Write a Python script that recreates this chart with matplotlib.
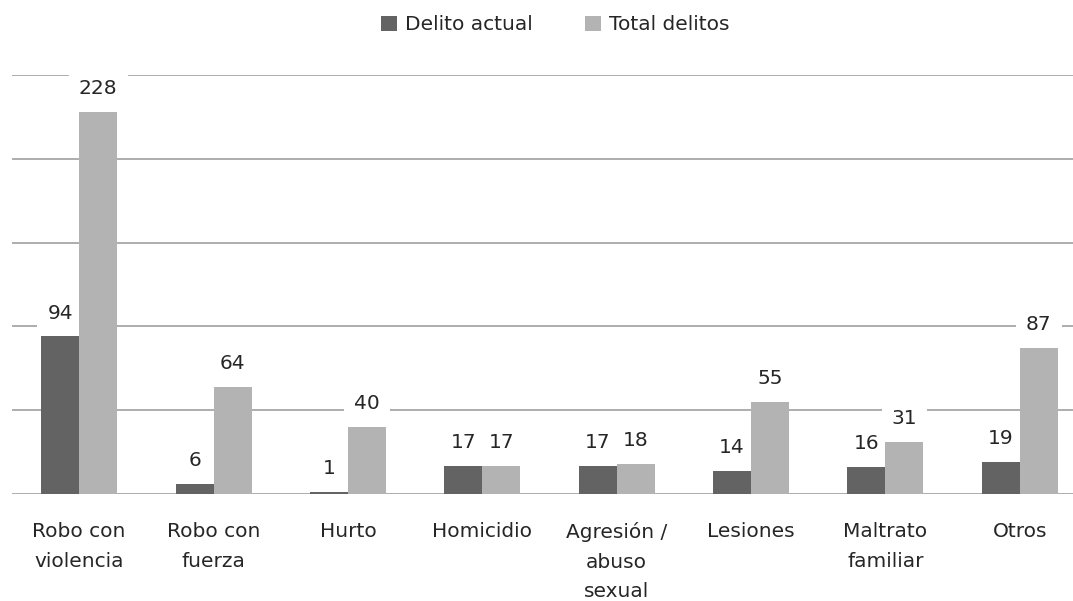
import matplotlib
matplotlib.use("Agg")
import matplotlib.pyplot as plt
import numpy as np

categories = ["Robo con\nviolencia", "Robo con\nfuerza", "Hurto", "Homicidio",
              "Agresión /\nabuso\nsexual", "Lesiones", "Maltrato\nfamiliar", "Otros"]
delito_actual = [94, 6, 1, 17, 17, 14, 16, 19]
total_delitos = [228, 64, 40, 17, 18, 55, 31, 87]

dark = "#636363"
light = "#b3b3b3"
grid_c = "#a0a0a0"
fs = 14.5

plt.rcParams["font.family"] = "DejaVu Sans"

fig = plt.figure(figsize=(10.73, 6.01), dpi=100)
ax = fig.add_axes([12 / 1073, 107 / 601, 1075 / 1073, 419 / 601])

x = np.arange(len(categories))
w = 0.283
b1 = ax.bar(x - w / 2, delito_actual, w, color=dark, label="Delito actual", zorder=3)
b2 = ax.bar(x + w / 2, total_delitos, w, color=light, label="Total delitos", zorder=3)

ax.set_xlim(-0.5, len(categories) - 0.5)
ax.set_ylim(0, 250)
ax.set_yticks(np.arange(0, 251, 50))
ax.yaxis.grid(True, color=grid_c, linewidth=1.2, zorder=0)
ax.tick_params(axis="y", left=False, labelleft=False)
ax.tick_params(axis="x", bottom=False, pad=16.5)
for s in ax.spines.values():
    s.set_visible(False)

ax.set_xticks(x)
ax.set_xticklabels(categories, fontsize=fs, color="#262626", linespacing=1.72, va="top")

for bars in (b1, b2):
    for r in bars:
        h = r.get_height()
        ax.annotate(str(int(h)), (r.get_x() + r.get_width() / 2, h),
                    xytext=(0, 10), textcoords="offset points",
                    ha="center", va="bottom", fontsize=fs, color="#262626",
                    bbox=dict(boxstyle="square,pad=0.5", fc="white", ec="none"),
                    zorder=2.5)

fig.legend(handles=[b1, b2], loc="center", bbox_to_anchor=(555 / 1073, 1 - 25 / 601),
           ncol=2, frameon=False, fontsize=fs, handlelength=0.8, handleheight=0.8,
           handletextpad=0.4, columnspacing=2.6, labelcolor="#262626")

fig.savefig("out.png", dpi=100, facecolor="white")
